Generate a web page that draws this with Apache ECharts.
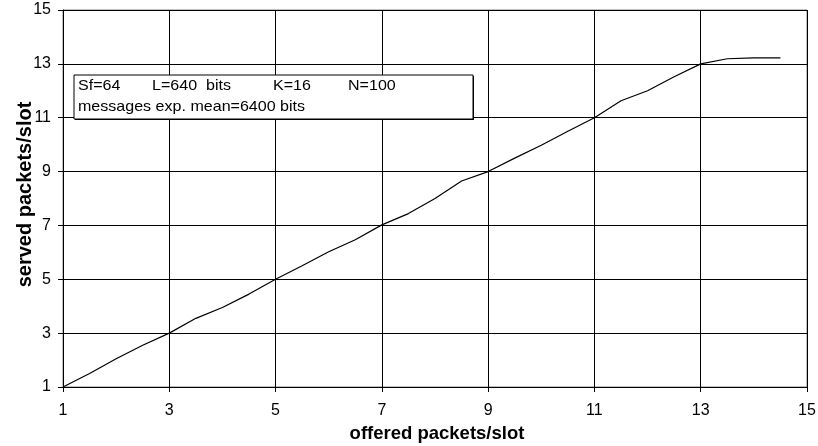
<!DOCTYPE html>
<html><head><meta charset="utf-8">
<script src="https://cdn.jsdelivr.net/npm/echarts@6/dist/echarts.min.js"></script>
<style>html,body{margin:0;padding:0;background:#fff}#c{width:818px;height:446px}</style>
</head><body><div id="c"></div>
<script>
const offered = [1,1.5,2,2.5,3,3.5,4,4.5,5,5.5,6,6.5,7,7.5,8,8.5,9,9.5,10,10.5,11,11.5,12,12.5,13,13.5,14,14.5];
const served  = [1,1.5,2.05,2.55,3,3.55,3.95,4.45,5,5.5,6.02,6.47,7.02,7.44,8.0,8.65,9.0,9.5,9.98,10.5,11.0,11.63,12.0,12.52,13.0,13.19,13.22,13.22];
const xTicks = [1,3,5,7,9,11,13,15];
const yTicks = [1,3,5,7,9,11,13,15];
const boxLine1 = ['Sf=64','L=640  bits','K=16','N=100'];
const boxLine2 = 'messages exp. mean=6400 bits';

const chart = echarts.init(document.getElementById('c'));
const font = 'Liberation Sans, Arial, sans-serif';
const line1X = [78,152,273,348];
chart.setOption({
  animation:false,
  grid:{left:63,right:11,top:10,bottom:59,containLabel:false,outerBoundsMode:'none',show:true,borderColor:'#808080',borderWidth:1,backgroundColor:'#fff'},
  xAxis:{type:'value',min:1,max:15,interval:2,
    name:'offered packets/slot',nameLocation:'middle',nameGap:37,nameMoveOverlap:false,
    nameTextStyle:{fontFamily:font,fontSize:18.5,fontWeight:'bold',color:'#000',padding:[0,0,0,4]},
    axisLine:{lineStyle:{color:'#000',width:1}},
    axisTick:{show:true,length:5,lineStyle:{color:'#000'}},
    axisLabel:{fontFamily:font,fontSize:16,color:'#000',margin:16,formatter:v=>xTicks.includes(v)?String(v):''},
    splitLine:{show:true,lineStyle:{color:'#000',width:1}}},
  yAxis:{type:'value',min:1,max:15,interval:2,
    name:'served packets/slot',nameLocation:'middle',nameGap:28,nameMoveOverlap:false,
    nameTextStyle:{fontFamily:font,fontSize:20,fontWeight:'bold',color:'#000',padding:[0,0,0,8]},
    axisLine:{show:true,lineStyle:{color:'#000',width:1}},
    axisTick:{show:true,length:5,lineStyle:{color:'#000'}},
    axisLabel:{fontFamily:font,fontSize:16,color:'#000',margin:12,formatter:v=>yTicks.includes(v)?String(v):''},
    splitLine:{show:true,lineStyle:{color:'#000',width:1}}},
  series:[{type:'line',data:offered.map((x,i)=>[x,served[i]]),showSymbol:false,symbol:'none',
    lineStyle:{color:'#000',width:1.2}}],
  graphic:[
    {type:'rect',shape:{x:75,y:76,width:399,height:44},style:{fill:'#000'},z:10},
    {type:'rect',shape:{x:74,y:75,width:399,height:44},style:{fill:'#fff',stroke:'#000',lineWidth:1},z:11},
    ...boxLine1.map((t,i)=>({type:'text',x:line1X[i],y:78,scaleX:1.07,style:{text:t,fontFamily:font,fontSize:15,fill:'#000'},z:12})),
    {type:'text',x:78,y:99,scaleX:1.07,style:{text:boxLine2,fontFamily:font,fontSize:15,fill:'#000'},z:12}
  ]
});
</script></body></html>
